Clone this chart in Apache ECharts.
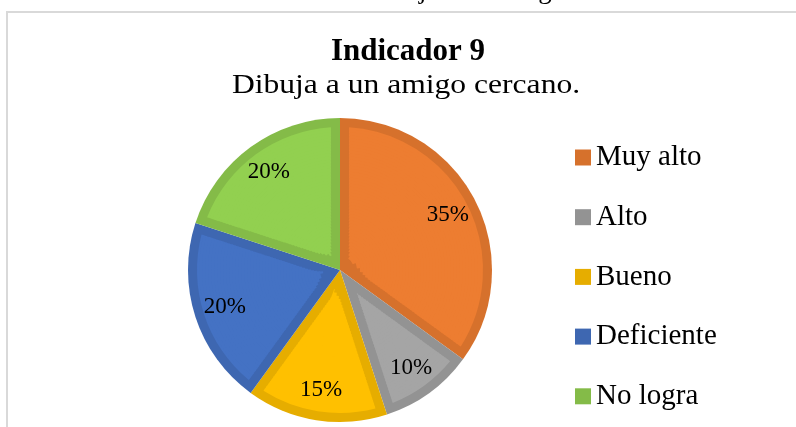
<!DOCTYPE html>
<html>
<head>
<meta charset="UTF-8">
<script src="https://cdn.jsdelivr.net/npm/echarts@6/dist/echarts.min.js"></script>
<title>Indicador 9</title>
<style>html,body{margin:0;padding:0;background:#fff;}</style>
</head>
<body>
	<div id="main" style="width:796px;height:427px;"></div>
	<script type="text/javascript">
		// datos del grafico
		var categories = ['Muy alto', 'Alto', 'Bueno', 'Deficiente', 'No logra'];
		var values = [35, 10, 15, 20, 20];
		var fillColors = ['#ED7D31', '#A5A5A5', '#FFC000', '#4472C4', '#92D050'];
		var edgeColors = ['#D6712C', '#939393', '#E6AD00', '#3E67B1', '#84BB48'];

		var serif = '"Liberation Serif", "Times New Roman", serif';
		var center = [340, 270];
		var R = 152;      // radio exterior
		var band = 9;     // ancho del borde interior de cada sector

		function pieData(colors) {
			return categories.map(function (name, i) {
				return { name: name, value: values[i], itemStyle: { color: colors[i] } };
			});
		}

		var series = [];
		// pie base con el color del borde
		series.push({
			type: 'pie', center: center, radius: [0, R], startAngle: 90, clockwise: true,
			silent: true, label: { show: false }, labelLine: { show: false },
			data: pieData(edgeColors)
		});
		// anillos finos con separacion creciente hacia el centro -> borde de ancho constante
		var rIn = 8, rOut = R - band, step = 3;
		var edges = [];
		for (var r = rIn; r < rOut; r += step) edges.push(r);
		edges.push(rOut);
		for (var k = edges.length - 2; k >= 0; k--) {
			var r0 = edges[k], r1 = edges[k + 1];
			var rm = (r0 + r1) / 2;
			var pad = 2 * Math.asin(Math.min(1, band / rm)) * 180 / Math.PI;
			series.push({
				type: 'pie', center: center, radius: [r0, k === edges.length - 2 ? r1 : r1 + 1],
				startAngle: 90, clockwise: true, padAngle: pad,
				silent: true, label: { show: false }, labelLine: { show: false },
				data: pieData(fillColors)
			});
		}
		// etiquetas de porcentaje
		series.push({
			type: 'pie', center: center, radius: [96, 140], startAngle: 90, clockwise: true,
			silent: true,
			itemStyle: { color: 'rgba(0,0,0,0)' },
			label: { show: true, position: 'inside', formatter: '{d}%', color: '#000', fontSize: 23, fontFamily: serif },
			labelLine: { show: false },
			data: categories.map(function (name, i) { return { name: name, value: values[i] }; })
		});

		var myChart = echarts.init(document.getElementById('main'));
		var option = {
			backgroundColor: '#fff',
			animation: false,
			legend: {
				orient: 'vertical', left: 575, top: 143, padding: 0,
				itemWidth: 16, itemHeight: 16, itemGap: 30.7, icon: 'rect',
				selectedMode: false,
				textStyle: { fontSize: 29, lineHeight: 28, fontFamily: serif, color: '#000' },
				data: categories
			},
			graphic: [
				{ type: 'rect', silent: true, shape: { x: 7, y: 12, width: 900, height: 600 },
				  style: { fill: 'none', stroke: '#d9d9d9', lineWidth: 2 } },
				{ type: 'text', silent: true, x: 365, y: -9,
				  style: { text: 'Dibuja a un amigo cercano', font: '27px ' + serif, fill: '#000', textAlign: 'left', verticalAlign: 'middle' } },
				{ type: 'text', silent: true, x: 408, y: 52,
				  style: { text: 'Indicador 9', font: 'bold 31px ' + serif, fill: '#000', textAlign: 'center', verticalAlign: 'middle' } },
				{ type: 'text', silent: true, x: 406, y: 86, scaleX: 1.17,
				  style: { text: 'Dibuja a un amigo cercano.', font: '27px ' + serif, fill: '#000', textAlign: 'center', verticalAlign: 'middle' } }
			],
			series: series
		};
		myChart.setOption(option);
	</script>
</body>
</html>
